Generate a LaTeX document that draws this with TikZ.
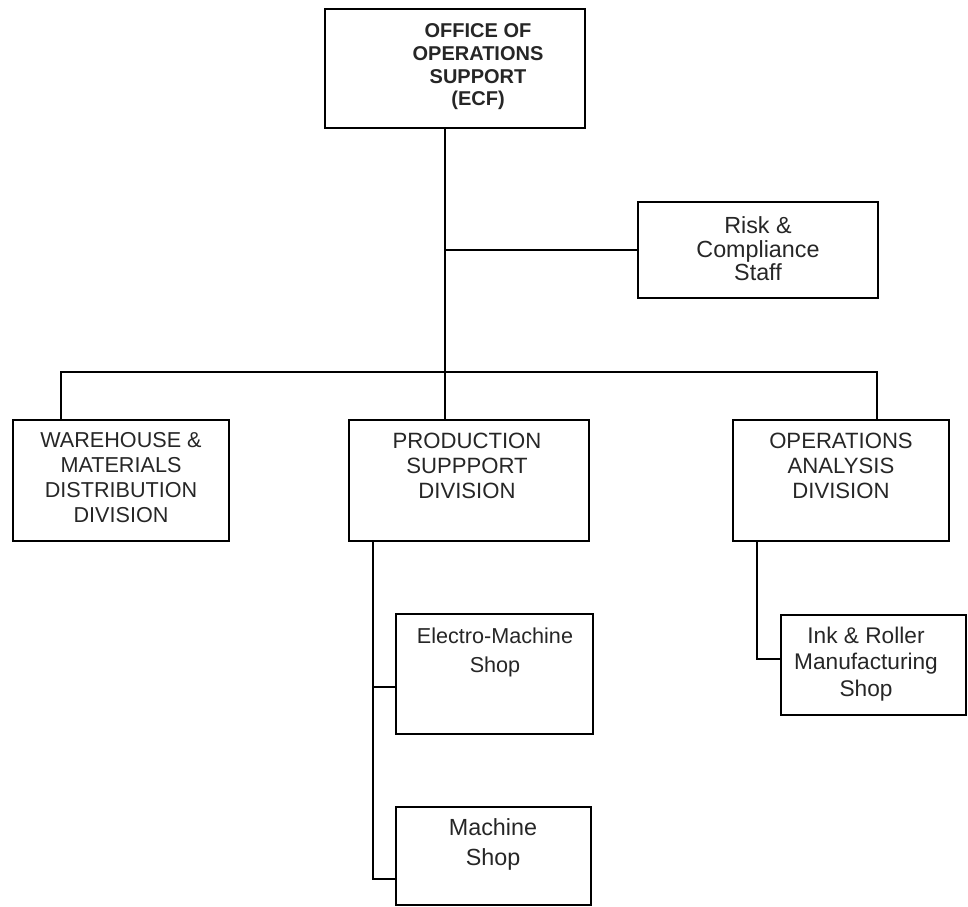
\documentclass[tikz,border=0pt]{standalone}
\usepackage{fontspec}
\setmainfont{Liberation Sans}
\usetikzlibrary{fit}
\begin{document}
\begin{tikzpicture}[x=0.75pt,y=-0.75pt,
  box/.style={draw=black, line width=1.3pt, inner sep=0pt, rectangle},
  txt/.style={align=center, inner sep=0pt, text=black!85},
  wire/.style={draw=black, line width=1.1pt},
]
\useasboundingbox (0,0) rectangle (968,907);

% boxes
\node[box, fit={(325,9) (585,128)}]   (top) {};
\node[box, fit={(638,202) (878,298)}] (risk) {};
\node[box, fit={(13,420) (229,541)}]  (wh) {};
\node[box, fit={(349,420) (589,541)}] (ps) {};
\node[box, fit={(733,420) (949,541)}] (oa) {};
\node[box, fit={(396,614) (593,734)}] (em) {};
\node[box, fit={(396,807) (591,905)}] (ms) {};
\node[box, fit={(781,615) (966,715)}] (ink) {};

% labels
\node[txt, font=\fontsize{15}{17}\selectfont\bfseries] (top-t) at (478,67)
  {OFFICE OF\\OPERATIONS\\SUPPORT\\(ECF)};
\node[txt, font=\fontsize{17.5}{17.6}\selectfont] (risk-t) at (758,249)
  {Risk \&\\Compliance\\Staff};
\node[txt, font=\fontsize{16.2}{18.75}\selectfont] (wh-t) at (121,478)
  {WAREHOUSE \&\\MATERIALS\\DISTRIBUTION\\DIVISION};
\node[txt, font=\fontsize{16.6}{18.75}\selectfont] (ps-t) at (467,466)
  {PRODUCTION\\SUPPPORT\\DIVISION};
\node[txt, font=\fontsize{16.6}{18.75}\selectfont] (oa-t) at (841,466)
  {OPERATIONS\\ANALYSIS\\DIVISION};
\node[txt, font=\fontsize{16.2}{21.75}\selectfont] (em-t) at (495,652)
  {Electro-Machine\\Shop};
\node[txt, font=\fontsize{17.5}{22.5}\selectfont] (ms-t) at (493,844)
  {Machine\\Shop};
\node[txt, font=\fontsize{17}{20}\selectfont] (ink-t) at (866,664)
  {Ink \& Roller\\Manufacturing\\Shop};

% junction points of the connector lines
\coordinate (bus)  at (445,372);
\coordinate (lbus) at (61,372);
\coordinate (rbus) at (877,372);
\coordinate (pl)   at (373,541);
\coordinate (eb)   at (373,687);
\coordinate (mb)   at (373,879);
\coordinate (ol)   at (757,541);
\coordinate (ib)   at (757,659);

% connectors
\draw[wire] (top.south -| bus) -- (bus |- ps.north);
\draw[wire] (risk.west) -- (risk.west -| bus);
\draw[wire] (wh.north -| lbus) -- (lbus) -- (rbus) -- (oa.north -| rbus);
\draw[wire] (pl) -- (mb) -- (mb -| ms.west);
\draw[wire] (eb) -- (eb -| em.west);
\draw[wire] (ol) -- (ib) -- (ib -| ink.west);
\end{tikzpicture}
\end{document}
